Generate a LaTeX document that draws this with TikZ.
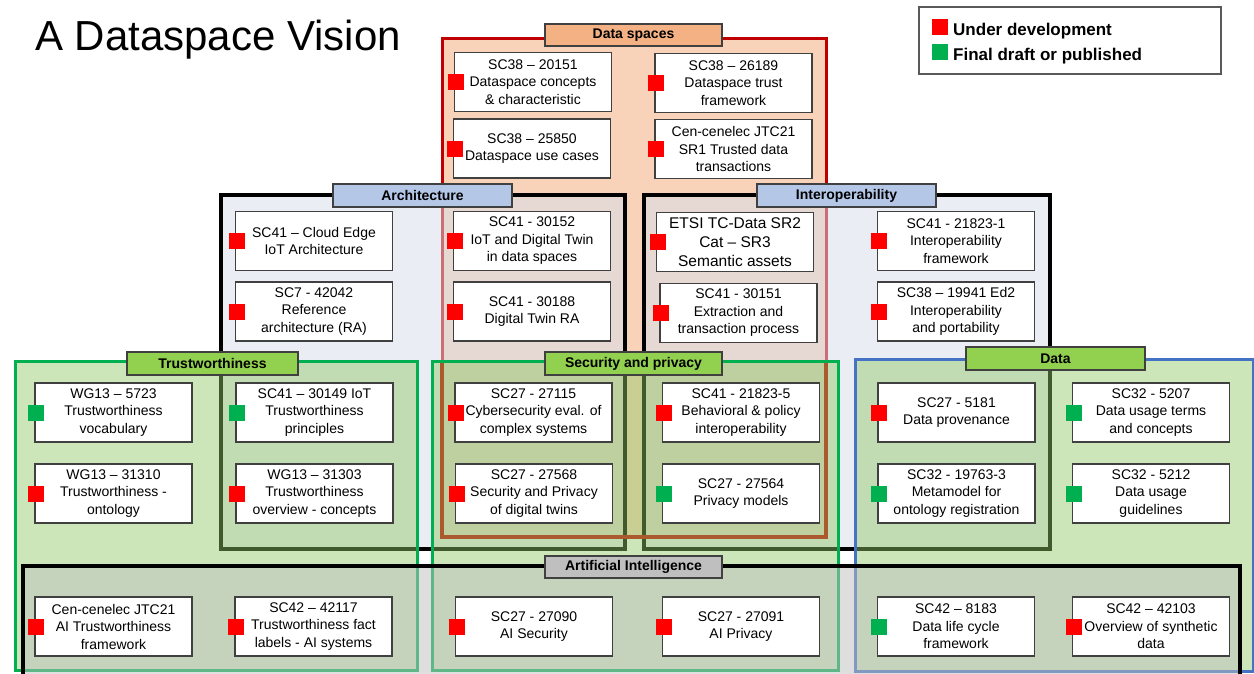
\documentclass[tikz,border=0pt]{standalone}
\usepackage{fontspec}
\setmainfont{Liberation Sans}
\definecolor{dsred}{HTML}{C00000}
\definecolor{dspeach}{RGB}{248,211,185}
\definecolor{dslabel}{HTML}{F4B183}
\definecolor{archfill}{RGB}{214,222,235}
\definecolor{archlabel}{HTML}{B4C7E7}
\definecolor{grfill}{RGB}{144,200,100}
\definecolor{grline}{HTML}{00B050}
\definecolor{grlabel}{HTML}{92D050}
\definecolor{blline}{HTML}{4472C4}
\definecolor{aifill}{RGB}{191,191,191}
\definecolor{mkred}{HTML}{FF0000}
\definecolor{mkgreen}{HTML}{00B050}
\definecolor{boxline}{RGB}{64,64,64}
\newcommand\docbox[5]{%
  \node[doc] (#1) at (#2,#3) {#5};
  \fill[#4] ([xshift=-6pt,yshift=-8pt]#1.west) rectangle ++(16pt,16pt);}
\begin{document}
\begin{tikzpicture}[x=1pt,y=-1pt,
  doc/.style={draw=boxline, line width=1.2pt, fill=white, minimum width=157pt,
    minimum height=59pt, inner sep=0pt, align=center,
    font=\fontsize{14}{17.5}\selectfont},
  lbl/.style={draw=boxline, line width=1.5pt, inner sep=0pt,
    font=\bfseries\fontsize{14}{16}\selectfont},
  archframe/.style={draw=black, line width=3.5pt, fill=archfill, fill opacity=0.5},
  grframe/.style={line width=3pt, fill=grfill, fill opacity=0.45},
  aiframe/.style={draw=black, line width=3.5pt, fill=aifill, fill opacity=0.5}]
\useasboundingbox (0,0) rectangle (1254,673);
\fill[white] (0,0) rectangle (1254,673);
% frames
\path[draw=dsred, line width=3pt, fill=dspeach] (442,38) rectangle (826,537);
\path[archframe] (221,195) rectangle (625,549);
\path[archframe] (644,195) rectangle (1050,549);
\draw[dsred, line width=3.5pt] (442,362) -- (442,537) -- (826,537) -- (826,362);
\path[grframe, draw=grline] (15,361) rectangle (417,670);
\path[grframe, draw=grline] (432,361) rectangle (838,670);
\path[grframe, draw=blline] (855,359) rectangle (1253,671);
\path[aiframe] (23,566) rectangle (1240,700);
% labels
\node[lbl, fill=dslabel, minimum width=177pt, minimum height=22pt] (lds) at (633.5,35) {Data spaces};
\node[lbl, fill=archlabel, minimum width=179pt, minimum height=23pt] (lar) at (422.5,195.5) {Architecture};
\node[lbl, fill=archlabel, minimum width=179pt, minimum height=23pt] (lio) at (846.5,195.5) {Interoperability};
\node[lbl, fill=grlabel, minimum width=171pt, minimum height=23pt] (ltr) at (212.5,363.5) {Trustworthiness};
\node[lbl, fill=grlabel, minimum width=177pt, minimum height=23pt] (lse) at (633.5,363.5) {Security and privacy};
\node[lbl, fill=grlabel, minimum width=179pt, minimum height=23pt] (lda) at (1055.5,358.5) {Data};
\node[lbl, fill=aifill, minimum width=177pt, minimum height=22pt] (lai) at (633.5,567) {Artificial Intelligence};
% data spaces
\docbox{ds1}{533}{82}{mkred}{SC38 – 20151\\Dataspace concepts\\\& characteristic}
\docbox{ds2}{532}{148.5}{mkred}{SC38 – 25850\\Dataspace use cases}
\docbox{ds3}{733.5}{83}{mkred}{SC38 – 26189\\Dataspace trust\\framework}
\docbox{ds4}{733.5}{149}{mkred}{Cen-cenelec JTC21\\SR1 Trusted data\\transactions}
% architecture
\docbox{ar1}{314}{241}{mkred}{SC41 – Cloud Edge\\IoT Architecture}
\docbox{ar2}{314}{311.5}{mkred}{SC7 - 42042\\Reference\\architecture (RA)}
\docbox{ar3}{532}{241}{mkred}{SC41 - 30152\\IoT and Digital Twin\\in data spaces}
\docbox{ar4}{532}{311.5}{mkred}{SC41 - 30188\\Digital Twin RA}
% interoperability
\node[doc, font=\fontsize{15.5}{19}\selectfont] (io1) at (735,242) {ETSI TC-Data SR2\\Cat – SR3\\Semantic assets};
\fill[mkred] ([xshift=-6pt,yshift=-8pt]io1.west) rectangle ++(16pt,16pt);
\docbox{io2}{738.5}{313}{mkred}{SC41 - 30151\\Extraction and\\transaction process}
\docbox{io3}{956}{241}{mkred}{SC41 - 21823-1\\Interoperability\\framework}
\docbox{io4}{956}{311.5}{mkred}{SC38 – 19941 Ed2\\Interoperability\\and portability}
% trustworthiness
\docbox{tr1}{113.5}{412.5}{mkgreen}{WG13 – 5723\\Trustworthiness\\vocabulary}
\docbox{tr2}{113.5}{493.5}{mkred}{WG13 – 31310\\Trustworthiness -\\ontology}
\docbox{tr3}{314.5}{412.5}{mkgreen}{SC41 – 30149 IoT\\Trustworthiness\\principles}
\docbox{tr4}{314.5}{493.5}{mkred}{WG13 – 31303\\Trustworthiness\\overview - concepts}
% security
\docbox{se1}{533.5}{412.5}{mkred}{SC27 - 27115\\Cybersecurity eval. of\\complex systems}
\docbox{se2}{534}{493.5}{mkred}{SC27 - 27568\\Security and Privacy\\of digital twins}
\docbox{se3}{741}{412.5}{mkred}{SC41 - 21823-5\\Behavioral \& policy\\interoperability}
\docbox{se4}{741}{493.5}{mkgreen}{SC27 - 27564\\Privacy models}
% data
\docbox{da1}{956.5}{412.5}{mkred}{SC27 - 5181\\Data provenance}
\docbox{da2}{956.5}{493.5}{mkgreen}{SC32 - 19763-3\\Metamodel for\\ontology registration}
\docbox{da3}{1151}{412.5}{mkgreen}{SC32 - 5207\\Data usage terms\\and concepts}
\docbox{da4}{1151}{493.5}{mkgreen}{SC32 - 5212\\Data usage\\guidelines}
% AI
\docbox{ai1}{113.5}{626.5}{mkred}{Cen-cenelec JTC21\\AI Trustworthiness\\framework}
\docbox{ai2}{313.5}{626.5}{mkred}{SC42 – 42117\\Trustworthiness fact\\labels - AI systems}
\docbox{ai3}{534}{626.5}{mkred}{SC27 - 27090\\AI Security}
\docbox{ai4}{741}{626.5}{mkred}{SC27 - 27091\\AI Privacy}
\docbox{ai5}{956}{626.5}{mkgreen}{SC42 – 8183\\Data life cycle\\framework}
\docbox{ai6}{1151}{626.5}{mkred}{SC42 – 42103\\Overview of synthetic\\data}
% title
\node[anchor=base west, inner sep=0pt, font=\fontsize{42}{42}\selectfont] (title) at (35,50) {A Dataspace Vision};
% legend
\node[draw=black!65, line width=1.5pt, minimum width=302pt, minimum height=67pt, inner sep=0pt] (legend) at (1070,40.5) {};
\fill[mkred] (932,19) rectangle (948,35);
\fill[mkgreen] (932,44) rectangle (948,60);
\node[anchor=base west, inner sep=0pt, font=\bfseries\fontsize{17}{20}\selectfont] (leg1) at (953,35) {Under development};
\node[anchor=base west, inner sep=0pt, font=\bfseries\fontsize{17}{20}\selectfont] (leg2) at (953,60) {Final draft or published};
\end{tikzpicture}
\end{document}
